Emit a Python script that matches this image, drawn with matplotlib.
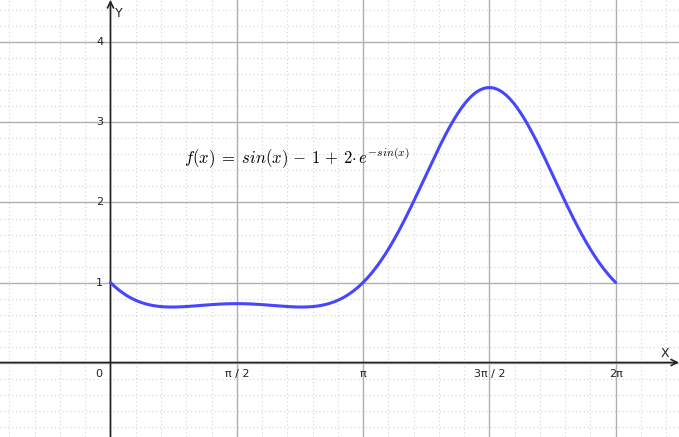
import numpy as np
import matplotlib
matplotlib.use("Agg")
import matplotlib.pyplot as plt

# fonction tracee : f(x) = sin(x) - 1 + 2*exp(-sin(x)) sur [0, 2pi]
x_start, x_end = 0.0, 2 * np.pi
xs = np.linspace(x_start, x_end, 600)
ys = np.sin(xs) - 1 + 2 * np.exp(-np.sin(xs))

formula = r"$f(x)\;=\;sin(x)\,-\,1\,+\,2{\cdot}\, e^{-sin(x)}$"
x_ticks = [0, np.pi / 2, np.pi, 3 * np.pi / 2, 2 * np.pi]
x_tick_labels = ["0", "π / 2", "π", "3π / 2", "2π"]
y_ticks = [1, 2, 3, 4]
y_tick_labels = ["1", "2", "3", "4"]

xmin, xmax = -1.374, 7.071
ymin, ymax = -0.931, 4.531

fig = plt.figure(figsize=(6.79, 4.37), dpi=100)
ax = fig.add_axes([0, 0, 1, 1])
ax.set_xlim(xmin, xmax)
ax.set_ylim(ymin, ymax)
ax.axis("off")

""" grille secondaire (pointillés) """
for k in range(-5, 24):
    ax.axvline(k * np.pi / 10, color="#d2d2d2", lw=0.8, ls=(0, (1, 2.5)), zorder=0)
for k in range(-5, 23):
    ax.axhline(k * 0.2, color="#d2d2d2", lw=0.8, ls=(0, (1, 2.5)), zorder=0)

""" grille principale """
for k in range(-1, 5):
    ax.axvline(k * np.pi / 2, color="#b0b0b0", lw=1, zorder=1)
for k in range(-1, 5):
    ax.axhline(k, color="#b0b0b0", lw=1, zorder=1)

""" axes avec flèches """
ax.annotate("", xy=(xmax, 0), xytext=(xmin, 0),
            arrowprops=dict(arrowstyle="->", color="#222222", lw=1.2,
                            shrinkA=0, shrinkB=0, mutation_scale=11), zorder=3)
ax.annotate("", xy=(0, ymax), xytext=(0, ymin),
            arrowprops=dict(arrowstyle="->", color="#222222", lw=1.2,
                            shrinkA=0, shrinkB=0, mutation_scale=11), zorder=3)

for xv, lab in zip(x_ticks, x_tick_labels):
    if xv == 0:
        ax.text(-0.14, -0.145, lab, ha="center", va="center", fontsize=8, color="#222222")
    else:
        ax.text(xv, -0.145, lab, ha="center", va="center", fontsize=8, color="#222222")
for yv, lab in zip(y_ticks, y_tick_labels):
    ax.text(-0.09, yv, lab, ha="right", va="center", fontsize=8, color="#222222")

ax.text(6.9, 0.11, "X", ha="center", va="center", fontsize=9, color="#222222")
ax.text(0.1, 4.36, "Y", ha="center", va="center", fontsize=9, color="#222222")

ax.plot(xs, ys, color="#4646ff", lw=2.2, zorder=4, solid_capstyle="round")

ax.text(0.92, 2.56, formula, ha="left", va="center", fontsize=12,
        math_fontfamily="cm", color="black", zorder=5)

plt.savefig("out.png", dpi=100)
